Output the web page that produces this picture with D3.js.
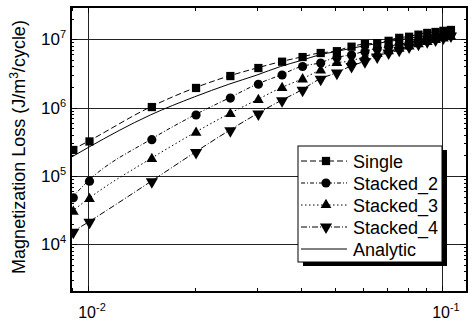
<!DOCTYPE html>
<html><head><meta charset="utf-8">
<script src="https://cdn.jsdelivr.net/npm/d3@7"></script>
<style>body{margin:0;background:#fff}svg{display:block}text{font-family:"Liberation Sans",Arial,sans-serif;fill:#000}</style>
</head><body>
<svg id="c" width="473" height="324"></svg>
<script>
const xValues = [0.009,0.01,0.015,0.02,0.025,0.03,0.035,0.04,0.045,0.05,0.055,0.06,0.065,0.07,0.075,0.08,0.085,0.09,0.095,0.1,0.105];
const single   = [2.4e5,3.2e5,1.02e6,1.94e6,2.9e6,3.8e6,4.7e6,5.5e6,6.3e6,6.7e6,7.8e6,8.5e6,8.8e6,9.5e6,1.05e7,1.09e7,1.17e7,1.24e7,1.28e7,1.33e7,1.37e7];
const stacked2 = [4.8e4,8.4e4,3.4e5,7.8e5,1.38e6,2.2e6,3.0e6,4.0e6,4.5e6,5.4e6,5.9e6,6.6e6,7.3e6,7.8e6,8.4e6,8.9e6,9.5e6,1.02e7,1.09e7,1.15e7,1.2e7];
const stacked3 = [3.0e4,4.6e4,1.78e5,4.3e5,8.1e5,1.3e6,1.94e6,2.6e6,3.5e6,4.5e6,4.8e6,5.5e6,6.1e6,6.7e6,7.3e6,7.9e6,8.5e6,9.2e6,9.8e6,1.03e7,1.09e7];
const stacked4 = [1.5e4,2.1e4,8.2e4,2.2e5,4.6e5,8.1e5,1.26e6,1.8e6,2.6e6,3.2e6,4.0e6,4.7e6,5.5e6,6.3e6,6.9e6,7.7e6,8.5e6,9.2e6,9.8e6,1.05e7,1.12e7];
const analyticX = [0.009,0.01,0.015,0.02,0.025,0.03,0.035,0.04,0.045,0.05,0.06,0.07,0.08,0.09,0.1,0.105];
const analytic  = [1.9e5,2.6e5,7.8e5,1.44e6,2.2e6,3.0e6,4.0e6,4.9e6,5.9e6,6.6e6,8.0e6,9.2e6,1.03e7,1.13e7,1.22e7,1.27e7];
const seriesNames = ["Single","Stacked_2","Stacked_3","Stacked_4","Analytic"];
const yTickExps = [4,5,6,7];
const xTickExps = [-2,-1];
const yTitle = "Magnetization Loss (J/m";

const svg = d3.select("#c");
const L=71,R=467,T=7,B=292;
const x = d3.scaleLog().domain([0.008953,0.1177]).range([L,R]);
const y = d3.scaleLog().domain([2004,2.97e7]).range([B,T]);

svg.append("clipPath").attr("id","clip").append("rect").attr("x",L).attr("y",T).attr("width",R-L).attr("height",B-T);

const grid = svg.append("g").attr("stroke","#222").attr("stroke-width",1);
yTickExps.forEach(e=>grid.append("line").attr("x1",L).attr("x2",R).attr("y1",Math.round(y(10**e))+0.5).attr("y2",Math.round(y(10**e))+0.5));
xTickExps.forEach(e=>grid.append("line").attr("y1",T).attr("y2",B).attr("x1",Math.round(x(10**e))+0.5).attr("x2",Math.round(x(10**e))+0.5));

const ticks = svg.append("g").attr("stroke","#000").attr("stroke-width",1);
const yMinor = [];
for (let e=3;e<=7;e++) for (let m=1;m<=9;m++){const v=m*10**e; if(v>=2004&&v<=2.97e7) yMinor.push([v,m===1]);}
yMinor.forEach(([v,maj])=>{const yy=Math.round(y(v))+0.5, len=maj?6:3;
  ticks.append("line").attr("x1",L).attr("x2",L+len).attr("y1",yy).attr("y2",yy);
  ticks.append("line").attr("x1",R-len).attr("x2",R).attr("y1",yy).attr("y2",yy);});
const xMinor = [];
for (let e=-3;e<=-1;e++) for (let m=1;m<=9;m++){const v=m*10**e; if(v>=0.008953&&v<=0.1177) xMinor.push([v,m===1]);}
xMinor.forEach(([v,maj])=>{const xx=Math.round(x(v))+0.5, len=maj?6:4;
  ticks.append("line").attr("y1",B).attr("y2",B-len).attr("x1",xx).attr("x2",xx);
  ticks.append("line").attr("y1",T).attr("y2",T+len).attr("x1",xx).attr("x2",xx);});

const styles = [
  {name:"Single", xs:xValues, ys:single, dash:"6,3", marker:"square"},
  {name:"Stacked_2", xs:xValues, ys:stacked2, dash:"4,2,1,2", marker:"circle"},
  {name:"Stacked_3", xs:xValues, ys:stacked3, dash:"1.5,2.5", marker:"up"},
  {name:"Stacked_4", xs:xValues, ys:stacked4, dash:"6,2,1,2", marker:"down"},
  {name:"Analytic", xs:analyticX, ys:analytic, dash:null, marker:null}
];
const symType = {square:d3.symbolSquare, circle:d3.symbolCircle, up:d3.symbolTriangle, down:d3.symbolTriangle};
const symSize = {square:68, circle:66, up:50, down:64};
function drawMarker(g,type,cx,cy){
  g.append("path").attr("d",d3.symbol().type(symType[type]).size(symSize[type])())
   .attr("transform",`translate(${cx},${cy})`+(type==="down"?" rotate(180)":"")).attr("fill","#000");
}
const plot = svg.append("g").attr("clip-path","url(#clip)");
const line = d3.line().x(d=>x(d[0])).y(d=>y(d[1])).curve(d3.curveMonotoneX);
styles.forEach(s=>{
  const pts = s.xs.map((v,i)=>[v,s.ys[i]]);
  plot.append("path").attr("d",line(pts)).attr("fill","none").attr("stroke","#000").attr("stroke-width",1)
    .attr("stroke-dasharray",s.dash);
  if (s.marker) pts.forEach(p=>drawMarker(plot,s.marker,x(p[0])+1.5,y(p[1])));
});

svg.append("rect").attr("x",L).attr("y",T).attr("width",R-L).attr("height",B-T).attr("fill","none").attr("stroke","#000").attr("stroke-width",2);

yTickExps.forEach(e=>{
  const t = svg.append("text").attr("x",66).attr("y",y(10**e)+6).attr("text-anchor","end").attr("font-size",17);
  t.append("tspan").text("10");
  t.append("tspan").attr("dy",-7).attr("font-size",11).text(e);
});
xTickExps.forEach(e=>{
  const t = svg.append("text").attr("x",x(10**e)+4).attr("y",318).attr("text-anchor","middle").attr("font-size",16);
  t.append("tspan").text("10");
  t.append("tspan").attr("dy",-7).attr("font-size",11).text("-"+(-e));
});

const yt = svg.append("text").attr("transform","translate(25,147) rotate(-90)").attr("text-anchor","middle").attr("font-size",18);
yt.append("tspan").text(yTitle);
yt.append("tspan").attr("dy",-7).attr("font-size",12).text("3");
yt.append("tspan").attr("dy",7).text("/cycle)");

const lx=298, ly=146, lw=144, lh=116;
svg.append("rect").attr("x",lx+5).attr("y",ly+4).attr("width",lw).attr("height",lh).attr("fill","#000");
svg.append("rect").attr("x",lx).attr("y",ly).attr("width",lw).attr("height",lh).attr("fill","#fff").attr("stroke","#000").attr("stroke-width",1);
styles.forEach((s,i)=>{
  const cy = 161 + i*22;
  svg.append("line").attr("x1",301).attr("x2",347).attr("y1",cy).attr("y2",cy).attr("stroke","#000").attr("stroke-width",1).attr("stroke-dasharray",s.dash);
  if (s.marker) drawMarker(svg,s.marker,326,cy);
  svg.append("text").attr("x",353).attr("y",cy+6.5).attr("font-size",18).text(seriesNames[i]);
});
</script>
</body></html>
